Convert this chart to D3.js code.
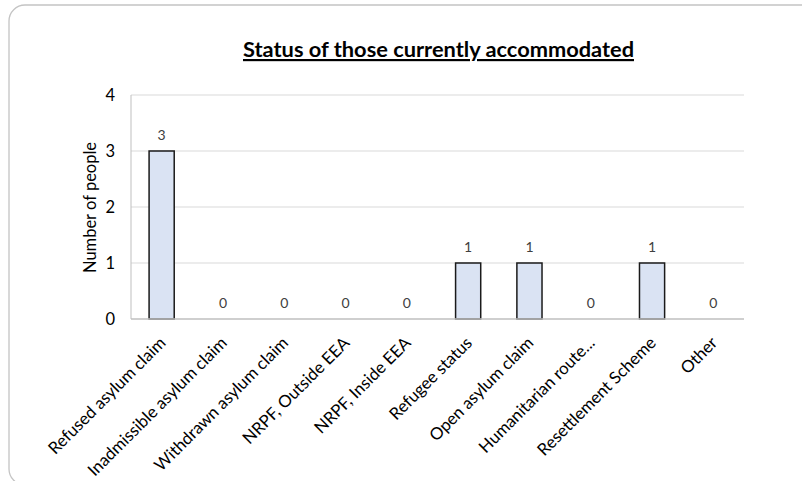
<!DOCTYPE html>
<html>
<head>
<meta charset="utf-8">
<script src="https://cdn.jsdelivr.net/npm/d3@7"></script>
<style>
  body { margin: 0; background: #fff; }
  svg { display: block; font-family: Lato, "Open Sans", sans-serif; }
</style>
</head>
<body>
<svg id="chart" width="802" height="481"></svg>
<script>
// data
const categories = ["Refused asylum claim", "Inadmissible asylum claim", "Withdrawn asylum claim",
  "NRPF, Outside EEA", "NRPF, Inside EEA", "Refugee status", "Open asylum claim",
  "Humanitarian route...", "Resettlement Scheme", "Other"];
const counts = [3, 0, 0, 0, 0, 1, 1, 0, 1, 0];
const yTicks = [0, 1, 2, 3, 4];

const svg = d3.select("#chart");
const plotL = 131, plotR = 744, plotT = 95, plotB = 319;

// outer frame (rounded, runs off right/bottom edge)
svg.append("rect").attr("x", 9).attr("y", 5).attr("width", 830).attr("height", 480)
  .attr("rx", 16).attr("fill", "none").attr("stroke", "#c4c4c4").attr("stroke-width", 1.3);

const x = d3.scaleBand().domain(categories).range([plotL, plotR]).paddingInner(0.59).paddingOuter(0.295);
const y = d3.scaleLinear().domain([0, 4]).range([plotB, plotT]);

// gridlines
svg.append("g").selectAll("line").data(yTicks.filter(t => t > 0)).join("line")
  .attr("x1", plotL).attr("x2", plotR).attr("y1", d => y(d)).attr("y2", d => y(d))
  .attr("stroke", "#d9d9d9").attr("stroke-width", 1);

// bars
svg.append("g").selectAll("rect").data(counts).join("rect")
  .attr("x", (d, i) => x(categories[i])).attr("width", x.bandwidth())
  .attr("y", d => y(d)).attr("height", d => plotB - y(d))
  .attr("fill", "#dae3f3").attr("stroke", "#1a1a1a").attr("stroke-width", 1.5);

// axes lines
svg.append("line").attr("x1", plotL).attr("x2", plotL).attr("y1", plotT).attr("y2", plotB)
  .attr("stroke", "#bfbfbf");
svg.append("line").attr("x1", plotL).attr("x2", plotR).attr("y1", plotB).attr("y2", plotB)
  .attr("stroke", "#bfbfbf").attr("stroke-width", 1.3);

// y tick labels
svg.append("g").selectAll("text").data(yTicks).join("text")
  .attr("x", 115).attr("y", d => y(d)).attr("dy", "0.36em").attr("text-anchor", "end")
  .attr("font-size", 16.5).attr("fill", "#000").text(d => d);

// y title
svg.append("text").attr("transform", "translate(96,207.5) rotate(-90)")
  .attr("text-anchor", "middle").attr("font-size", 16.5).attr("fill", "#000").text("Number of people");

// data labels
svg.append("g").selectAll("text").data(counts).join("text")
  .attr("x", (d, i) => x(categories[i]) + x.bandwidth() / 2).attr("y", d => y(d) - 11)
  .attr("text-anchor", "middle").attr("font-size", 14).attr("fill", "#404040").text(d => d);

// x labels
svg.append("g").selectAll("text").data(categories).join("text")
  .attr("transform", d => `translate(${x(d) + x.bandwidth() / 2 + 5},${plotB + 25}) rotate(-45)`)
  .attr("text-anchor", "end").attr("font-size", 16.8).attr("fill", "#000").text(d => d);

// title
svg.append("text").attr("x", (plotL + plotR) / 2 + 1).attr("y", 57).attr("text-anchor", "middle")
  .attr("font-size", 21.8).attr("font-weight", "bold").attr("text-decoration", "underline")
  .attr("fill", "#000").text("Status of those currently accommodated");
</script>
</body>
</html>
